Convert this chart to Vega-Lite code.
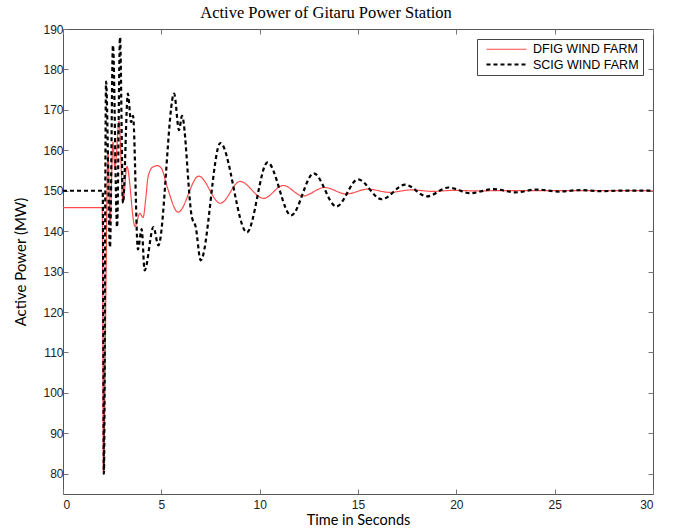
{
  "$schema": "https://vega.github.io/schema/vega-lite/v6.json",
  "width": 590,
  "height": 465,
  "autosize": {"type": "none"},
  "padding": {"left": 63, "top": 29, "right": 23, "bottom": 35},
  "background": "white",
  "title": {
    "text": "Active Power of Gitaru Power Station",
    "font": "Liberation Serif",
    "fontSize": 16.5,
    "fontWeight": "normal",
    "color": "#000",
    "anchor": "middle",
    "dx": -32,
    "offset": 2
  },
  "config": {
    "view": {"stroke": "#555", "strokeWidth": 1},
    "axis": {
      "grid": false,
      "domain": false,
      "tickColor": "#777",
      "tickSize": -5,
      "labelFont": "Liberation Sans",
      "labelFontSize": 12,
      "labelColor": "#222",
      "titleFont": "Lato",
      "titleFontSize": 15,
      "titleFontWeight": "normal",
      "titleColor": "#000"
    },
    "legend": {
      "title": null,
      "orient": "none",
      "legendX": 414,
      "legendY": 10,
      "symbolType": "M-0.2,0H7.8",
      "symbolSize": 100,
      "symbolFillColor": "transparent",
      "labelOffset": 39,
      "labelFont": "Liberation Sans",
      "labelFontSize": 12.5,
      "labelColor": "#000",
      "strokeColor": "#444",
      "fillColor": "white",
      "padding": 4,
      "rowPadding": 2
    }
  },
  "datasets": {
    "power": [
      {"t": 0, "v": 145.8, "s": "DFIG WIND FARM"},
      {"t": 2.0, "v": 145.8, "s": "DFIG WIND FARM"},
      {"t": 2.05, "v": 80, "s": "DFIG WIND FARM"},
      {"t": 2.29, "v": 159.5, "s": "DFIG WIND FARM"},
      {"t": 2.39, "v": 142, "s": "DFIG WIND FARM"},
      {"t": 2.54, "v": 162, "s": "DFIG WIND FARM"},
      {"t": 2.64, "v": 155.3, "s": "DFIG WIND FARM"},
      {"t": 2.85, "v": 167.2, "s": "DFIG WIND FARM"},
      {"t": 3.05, "v": 147, "s": "DFIG WIND FARM"},
      {"t": 3.25, "v": 156, "s": "DFIG WIND FARM"},
      {"t": 3.66, "v": 141.2, "s": "DFIG WIND FARM"},
      {"t": 3.91, "v": 144.4, "s": "DFIG WIND FARM"},
      {"t": 4.07, "v": 143.4, "s": "DFIG WIND FARM"},
      {"t": 4.22, "v": 148.6, "s": "DFIG WIND FARM"},
      {"t": 4.32, "v": 153.3, "s": "DFIG WIND FARM"},
      {"t": 4.55, "v": 155.8, "s": "DFIG WIND FARM"},
      {"t": 4.8, "v": 156.2, "s": "DFIG WIND FARM"},
      {"t": 5.0, "v": 155.6, "s": "DFIG WIND FARM"},
      {"t": 5.3, "v": 150.9, "s": "DFIG WIND FARM"},
      {"t": 5.85, "v": 144.7, "s": "DFIG WIND FARM"},
      {"t": 6.9, "v": 153.6, "s": "DFIG WIND FARM"},
      {"t": 8.0, "v": 146.9, "s": "DFIG WIND FARM"},
      {"t": 9.0, "v": 152.3, "s": "DFIG WIND FARM"},
      {"t": 10.2, "v": 148.1, "s": "DFIG WIND FARM"},
      {"t": 11.2, "v": 151.3, "s": "DFIG WIND FARM"},
      {"t": 12.2, "v": 148.7, "s": "DFIG WIND FARM"},
      {"t": 13.3, "v": 150.8, "s": "DFIG WIND FARM"},
      {"t": 14.4, "v": 149.2, "s": "DFIG WIND FARM"},
      {"t": 15.5, "v": 150.4, "s": "DFIG WIND FARM"},
      {"t": 16.6, "v": 149.6, "s": "DFIG WIND FARM"},
      {"t": 17.7, "v": 150.2, "s": "DFIG WIND FARM"},
      {"t": 18.8, "v": 149.85, "s": "DFIG WIND FARM"},
      {"t": 19.9, "v": 150.1, "s": "DFIG WIND FARM"},
      {"t": 21.0, "v": 149.95, "s": "DFIG WIND FARM"},
      {"t": 22.5, "v": 150.05, "s": "DFIG WIND FARM"},
      {"t": 30, "v": 150, "s": "DFIG WIND FARM"},
      {"t": 0, "v": 150, "s": "SCIG WIND FARM"},
      {"t": 2.02, "v": 150, "s": "SCIG WIND FARM"},
      {"t": 2.08, "v": 80, "s": "SCIG WIND FARM"},
      {"t": 2.19, "v": 177, "s": "SCIG WIND FARM"},
      {"t": 2.39, "v": 136, "s": "SCIG WIND FARM"},
      {"t": 2.54, "v": 186, "s": "SCIG WIND FARM"},
      {"t": 2.75, "v": 141, "s": "SCIG WIND FARM"},
      {"t": 2.9, "v": 188, "s": "SCIG WIND FARM"},
      {"t": 3.05, "v": 147, "s": "SCIG WIND FARM"},
      {"t": 3.3, "v": 174, "s": "SCIG WIND FARM"},
      {"t": 3.46, "v": 167, "s": "SCIG WIND FARM"},
      {"t": 3.56, "v": 168.5, "s": "SCIG WIND FARM"},
      {"t": 3.81, "v": 135.5, "s": "SCIG WIND FARM"},
      {"t": 4.0, "v": 140.5, "s": "SCIG WIND FARM"},
      {"t": 4.15, "v": 130.3, "s": "SCIG WIND FARM"},
      {"t": 4.6, "v": 141, "s": "SCIG WIND FARM"},
      {"t": 4.85, "v": 136.5, "s": "SCIG WIND FARM"},
      {"t": 5.65, "v": 174, "s": "SCIG WIND FARM"},
      {"t": 5.9, "v": 165, "s": "SCIG WIND FARM"},
      {"t": 6.05, "v": 168.5, "s": "SCIG WIND FARM"},
      {"t": 6.55, "v": 143.5, "s": "SCIG WIND FARM"},
      {"t": 6.75, "v": 141, "s": "SCIG WIND FARM"},
      {"t": 7.0, "v": 132.8, "s": "SCIG WIND FARM"},
      {"t": 8.0, "v": 161.8, "s": "SCIG WIND FARM"},
      {"t": 9.35, "v": 139.7, "s": "SCIG WIND FARM"},
      {"t": 10.4, "v": 157, "s": "SCIG WIND FARM"},
      {"t": 11.6, "v": 143.9, "s": "SCIG WIND FARM"},
      {"t": 12.75, "v": 154.3, "s": "SCIG WIND FARM"},
      {"t": 13.9, "v": 146.1, "s": "SCIG WIND FARM"},
      {"t": 15.0, "v": 152.8, "s": "SCIG WIND FARM"},
      {"t": 16.2, "v": 147.9, "s": "SCIG WIND FARM"},
      {"t": 17.4, "v": 151.5, "s": "SCIG WIND FARM"},
      {"t": 18.5, "v": 148.6, "s": "SCIG WIND FARM"},
      {"t": 19.6, "v": 150.8, "s": "SCIG WIND FARM"},
      {"t": 20.7, "v": 149.4, "s": "SCIG WIND FARM"},
      {"t": 21.9, "v": 150.4, "s": "SCIG WIND FARM"},
      {"t": 23.0, "v": 149.6, "s": "SCIG WIND FARM"},
      {"t": 24.1, "v": 150.3, "s": "SCIG WIND FARM"},
      {"t": 25.2, "v": 149.8, "s": "SCIG WIND FARM"},
      {"t": 26.3, "v": 150.15, "s": "SCIG WIND FARM"},
      {"t": 27.4, "v": 149.9, "s": "SCIG WIND FARM"},
      {"t": 28.5, "v": 150.05, "s": "SCIG WIND FARM"},
      {"t": 30, "v": 150, "s": "SCIG WIND FARM"}
    ]
  },
  "data": {"name": "power"},
  "resolve": {"axis": {"x": "independent", "y": "independent"}},
  "layer": [
    {
      "mark": {"type": "line", "interpolate": "monotone"},
      "encoding": {
        "x": {
          "field": "t", "type": "quantitative",
          "scale": {"domain": [0, 30], "nice": false, "zero": false},
          "axis": {"orient": "bottom", "values": [0, 5, 10, 15, 20, 25, 30], "title": "Time in Seconds", "labelPadding": 10, "titlePadding": 3, "titleFontSize": 14.5}
        },
        "y": {
          "field": "v", "type": "quantitative",
          "scale": {"domain": [75, 190], "nice": false, "zero": false},
          "axis": {"orient": "left", "values": [80, 90, 100, 110, 120, 130, 140, 150, 160, 170, 180, 190], "title": "Active Power (MW)", "labelPadding": 5, "titlePadding": 14}
        },
        "color": {
          "field": "s", "type": "nominal",
          "scale": {"domain": ["DFIG WIND FARM", "SCIG WIND FARM"], "range": ["#ff4d4d", "#000000"]}
        },
        "strokeDash": {
          "field": "s", "type": "nominal",
          "scale": {"domain": ["DFIG WIND FARM", "SCIG WIND FARM"], "range": [[1, 0], [4, 3]]}
        },
        "strokeWidth": {
          "field": "s", "type": "nominal",
          "scale": {"domain": ["DFIG WIND FARM", "SCIG WIND FARM"], "range": [1.2, 2.2]}
        }
      }
    },
    {
      "mark": {"type": "point", "opacity": 0},
      "encoding": {
        "x": {
          "field": "t", "type": "quantitative",
          "axis": {"orient": "top", "values": [0, 5, 10, 15, 20, 25, 30], "labels": false, "title": null}
        },
        "y": {
          "field": "v", "type": "quantitative",
          "axis": {"orient": "right", "values": [80, 90, 100, 110, 120, 130, 140, 150, 160, 170, 180, 190], "labels": false, "title": null}
        }
      }
    }
  ]
}
